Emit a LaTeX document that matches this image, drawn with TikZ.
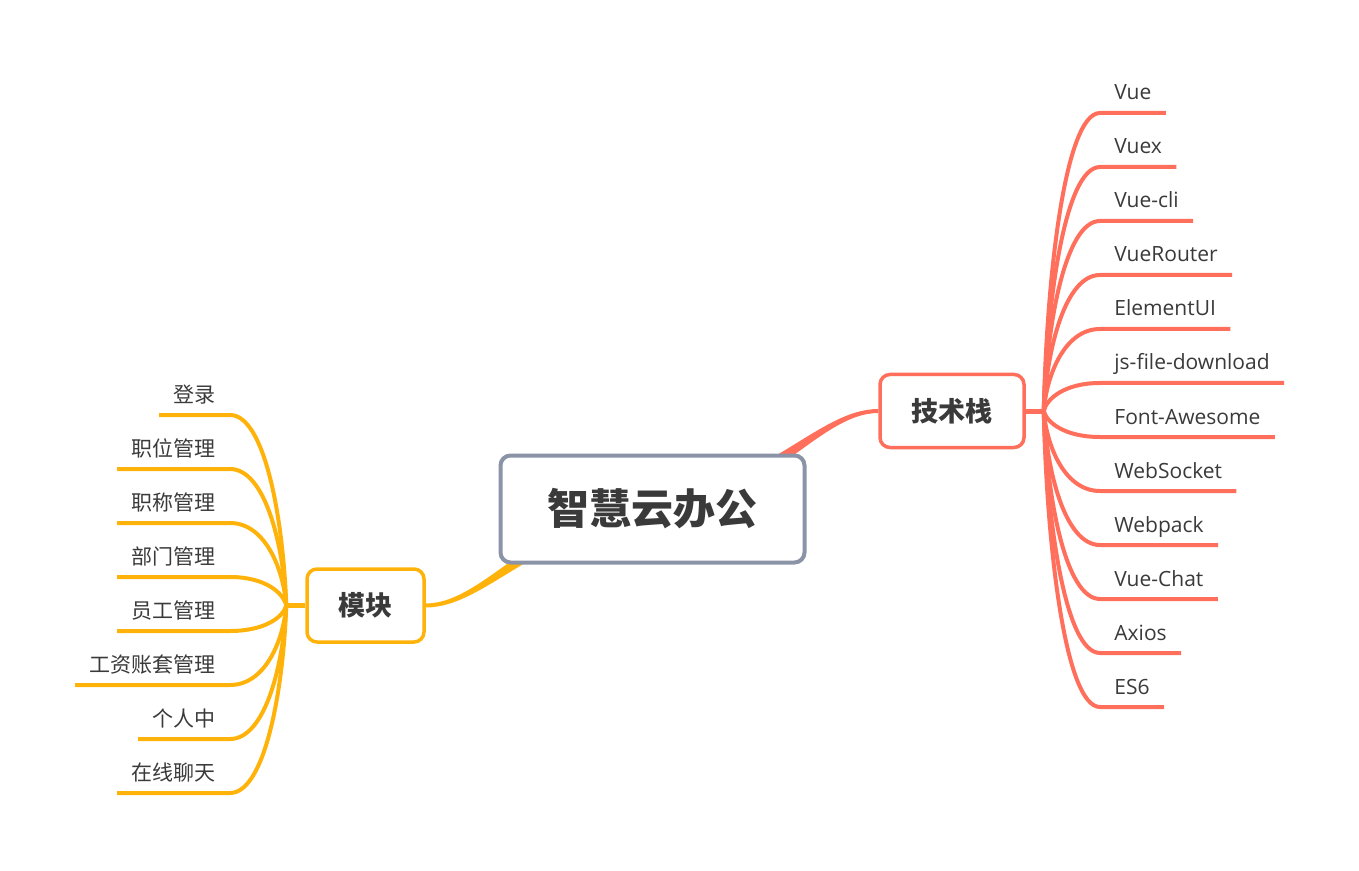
\documentclass[tikz,border=0pt]{standalone}
\usepackage{fontspec}
\setmainfont{Open Sans}
\newfontfamily\cjk{Noto Sans CJK SC}
\usepackage{xcolor}
\usetikzlibrary{calc,backgrounds}

\definecolor{coral}{HTML}{FF6F5B}
\definecolor{amber}{HTML}{FFB30A}
\definecolor{slate}{HTML}{8A94A6}
\definecolor{ink}{HTML}{3A3A3A}

\begin{document}
\begin{tikzpicture}[x=0.5pt, y=-0.5pt,
rootbox/.style={draw=slate, line width=2pt, rounded corners=5pt, fill=white, minimum width=152pt, minimum height=53.5pt, font=\cjk\bfseries\fontsize{21}{25}\selectfont, text=ink},
topicbox/.style={draw=#1, line width=1.75pt, rounded corners=5pt, fill=white, minimum height=36.5pt, font=\cjk\bfseries\fontsize{13.5}{16}\selectfont, text=ink},
leafline/.style={draw=#1, line width=2pt},
leaftext/.style={font=\fontsize{10.5}{12}\selectfont, text=ink, inner xsep=7pt, inner ysep=0pt}
]
\useasboundingbox (0,0) rectangle (1359,871);

% Main topics
\node[rootbox] (root) at (652.5,509) {智慧云办公};
\node[topicbox=coral, minimum width=72pt] (tech) at (952,411) {技术栈};
\node[topicbox=amber, minimum width=58.5pt] (mod) at (365.5,605.5) {模块};

\coordinate (tjoin) at ($(tech.east)+(18,0)$);
\coordinate (mjoin) at ($(mod.west)+(-19,0)$);

% Tapered connectors behind the root
\begin{scope}[on background layer]
\fill[coral] ($(root.center)+(0,-10)$) .. controls ($(root.center)+(112,-20)$) and ($(tech.west)+(-60,-2)$) .. ($(tech.west)+(0,-2)$)
  -- ($(tech.west)+(0,2)$) .. controls ($(tech.west)+(-60,2)$) and ($(root.center)+(112,-2)$) .. ($(root.center)+(0,10)$) -- cycle;
\fill[amber] ($(root.center)+(0,-10)$) .. controls ($(root.center)+(-112,0)$) and ($(mod.east)+(60,-2)$) .. ($(mod.east)+(0,-2)$)
  -- ($(mod.east)+(0,2)$) .. controls ($(mod.east)+(60,2)$) and ($(root.center)+(-112,18)$) .. ($(root.center)+(0,10)$) -- cycle;
\end{scope}

\draw[leafline=coral, line width=2.5pt] (tech.east) -- (tjoin);
\draw[leafline=amber, line width=2.5pt] (mod.west) -- (mjoin);

% Right leaves
\foreach \txt [count=\i] in {Vue, Vuex, Vue-cli, VueRouter, ElementUI, js-file-download, Font-Awesome, WebSocket, Webpack, Vue-Chat, Axios, ES6}{
  \pgfmathsetmacro\yy{59+54*\i}
  \pgfmathsetmacro\dy{0.45*(\yy-411)}
  \coordinate (tb\i) at (1100,\yy);
  \node[leaftext, anchor=base west] (tl\i) at ($(tb\i)+(0,-13)$) {\txt};
  \draw[leafline=coral] (tjoin) .. controls ($(tjoin)+(3,\dy)$) and ($(tb\i)+(-35,0)$) .. (tb\i) -- (tb\i -| tl\i.east);
}

% Left leaves
\foreach \txt [count=\i] in {登录, 职位管理, 职称管理, 部门管理, 员工管理, 工资账套管理, 个人中, 在线聊天}{
  \pgfmathsetmacro\yy{361+54*\i}
  \pgfmathsetmacro\dy{0.45*(\yy-605.5)}
  \coordinate (lb\i) at (230,\yy);
  \node[leaftext, font=\cjk\fontsize{10.5}{12}\selectfont, anchor=base east] (ll\i) at ($(lb\i)+(0,-13)$) {\txt};
  \draw[leafline=amber] (mjoin) .. controls ($(mjoin)+(-3,\dy)$) and ($(lb\i)+(35,0)$) .. (lb\i) -- (lb\i -| ll\i.west);
}
\end{tikzpicture}
\end{document}
